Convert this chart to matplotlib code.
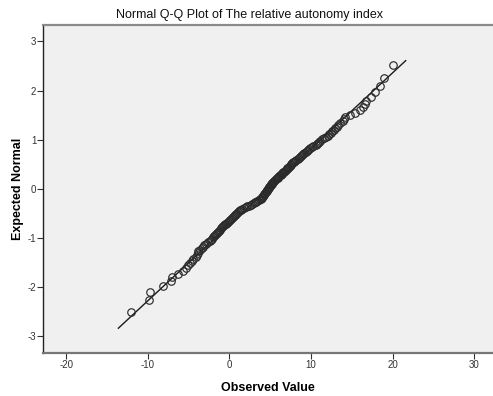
import numpy as np
import matplotlib
matplotlib.use("Agg")
import matplotlib.pyplot as plt
from statistics import NormalDist

plt.rcParams["font.family"] = ["Liberation Sans", "DejaVu Sans"]
plt.rcParams["axes.unicode_minus"] = False

# Observed values of the relative autonomy index, sorted ascending
observed = [
    -12.1, -9.9, -9.7, -8.1, -7.1, -7.0, -6.3, -5.7, -5.3, -5.1,
    -4.8, -4.6, -4.4, -4.1, -4.0, -3.9, -3.8, -3.6, -3.4, -3.2,
    -3.1, -2.9, -2.6, -2.4, -2.3, -2.1, -2.0, -1.9, -1.75, -1.6,
    -1.5, -1.4, -1.25, -1.1, -1.0, -0.85, -0.75, -0.6, -0.5, -0.4,
    -0.25, -0.15, 0.0, 0.1, 0.2, 0.3, 0.4, 0.55, 0.65, 0.75,
    0.85, 0.95, 1.05, 1.2, 1.3, 1.4, 1.6, 1.8, 2.0, 2.2,
    2.4, 2.6, 2.8, 3.0, 3.1, 3.3, 3.4, 3.6, 3.7, 3.85,
    4.0, 4.05, 4.1, 4.15, 4.2, 4.3, 4.35, 4.4, 4.5, 4.55,
    4.6, 4.65, 4.7, 4.8, 4.85, 4.9, 5.0, 5.05, 5.1, 5.2,
    5.25, 5.3, 5.4, 5.5, 5.6, 5.7, 5.8, 5.9, 6.0, 6.1,
    6.2, 6.3, 6.4, 6.5, 6.6, 6.7, 6.8, 6.9, 7.0, 7.05,
    7.15, 7.3, 7.4, 7.5, 7.6, 7.7, 7.8, 7.95, 8.1, 8.2,
    8.35, 8.5, 8.6, 8.75, 8.9, 9.05, 9.2, 9.35, 9.5, 9.6,
    9.75, 9.9, 10.1, 10.3, 10.6, 10.7, 10.9, 11.0, 11.15, 11.3,
    11.6, 11.9, 12.1, 12.25, 12.4, 12.6, 12.8, 13.0, 13.2, 13.35,
    13.5, 13.9, 14.1, 14.2, 14.8, 15.4, 16.0, 16.4, 16.6, 16.8,
    17.4, 17.9, 18.5, 19.0, 20.0,
]

# Reference line parameters (mean and SD of the normal fit) and its x extent
line_mean = 4.72
line_sd = 6.47
line_x = [-13.6, 21.6]

x_ticks = [-20, -10, 0, 10, 20, 30]
y_ticks = [-3, -2, -1, 0, 1, 2, 3]

obs = np.sort(np.asarray(observed))
n = len(obs)
nd = NormalDist()
expected = np.array([nd.inv_cdf(i / (n + 1)) for i in range(1, n + 1)])

fig = plt.figure(figsize=(4.93, 3.96), dpi=100)
fig.patch.set_facecolor("white")
ax = fig.add_axes([0.0878, 0.1093, 0.9122, 0.8283])
ax.set_facecolor("#F0F0F0")

lx = np.array(line_x)
ax.plot(lx, (lx - line_mean) / line_sd, color="#1a1a1a", lw=1.0, zorder=2)
ax.plot(obs, expected, linestyle="none", marker="o", markersize=5.4,
        markerfacecolor="none", markeredgecolor="#2b2b2b", markeredgewidth=0.85,
        zorder=3)

ax.set_xlim(-22.8, 32.3)
ax.set_ylim(-3.33, 3.34)
ax.set_xticks(x_ticks)
ax.set_yticks(y_ticks)
ax.tick_params(axis="both", direction="out", length=4, width=0.8,
               color="#333333", labelsize=7, labelcolor="#333333", pad=1)

ax.spines["right"].set_visible(False)
ax.spines["left"].set_color("#222222")
ax.spines["left"].set_linewidth(1.0)
ax.spines["bottom"].set_color("#777777")
ax.spines["bottom"].set_linewidth(1.6)
ax.spines["top"].set_color("#8a8a8a")
ax.spines["top"].set_linewidth(1.6)

ax.set_xlabel("Observed Value", fontsize=9, fontweight="bold", labelpad=9)
ax.set_ylabel("Expected Normal", fontsize=9, fontweight="bold", labelpad=3)
fig.text(0.507, 0.962, "Normal Q-Q Plot of The relative autonomy index",
         ha="center", va="center", fontsize=9, color="#111111")

fig.savefig("out.png", dpi=100)
